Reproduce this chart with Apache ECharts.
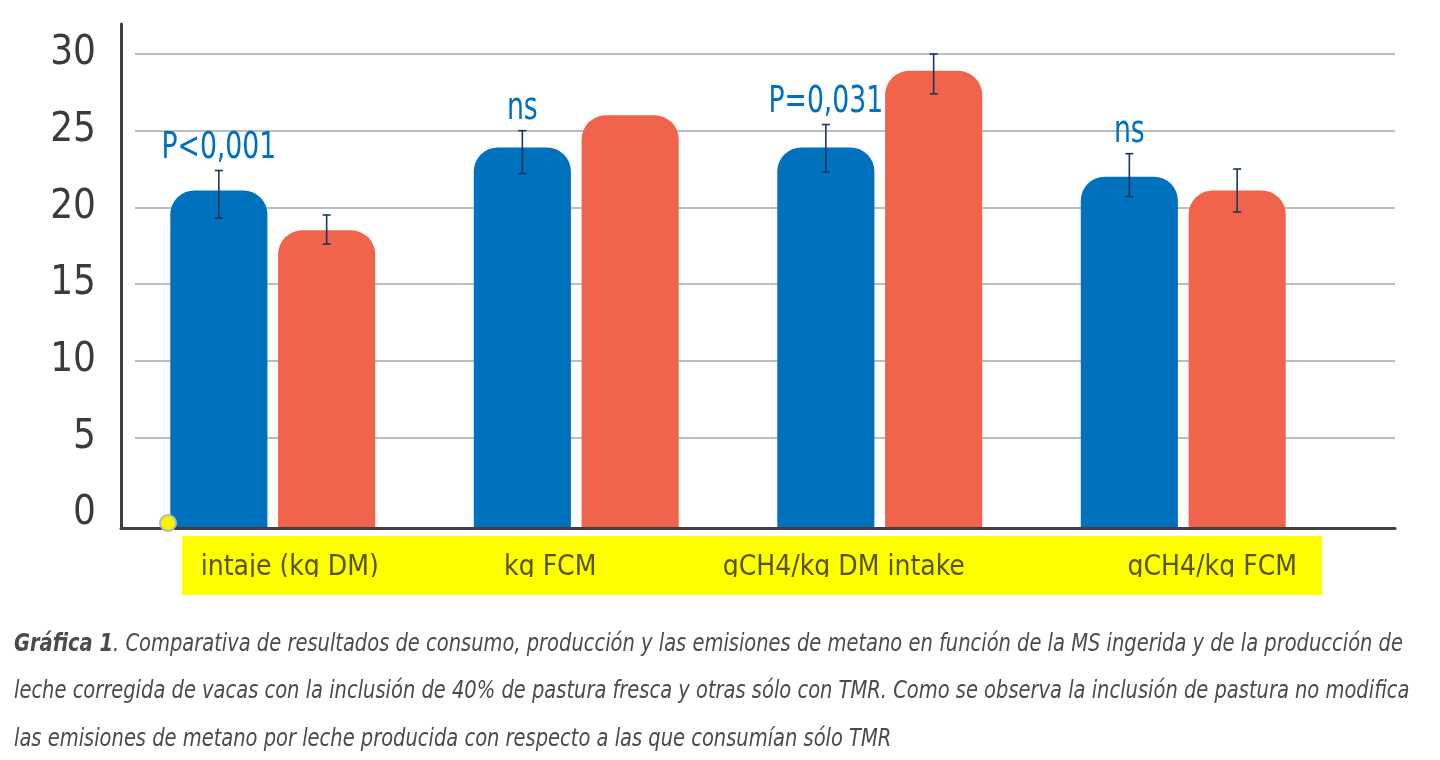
<!DOCTYPE html>
<html>
<head>
<meta charset="utf-8">
<title>Gráfica 1</title>
<script src="https://cdn.jsdelivr.net/npm/echarts@6/dist/echarts.min.js"></script>
<style>
  * { margin: 0; padding: 0; }
  html, body { width: 1440px; height: 760px; background: #fff; overflow: hidden; }
  #main { width: 1440px; height: 760px; }
</style>
</head>
<body>
<div id="main"></div>
<script>
// datos
const categories = ['intaje (kg DM)', 'kg FCM', 'gCH4/kg DM intake', 'gCH4/kg FCM'];
const pastura = [21.1, 23.9, 23.9, 22.0];
const tmr = [18.5, 26.0, 28.9, 21.1];
const pasturaLow = [19.3, 22.2, 22.3, 20.7];
const pasturaHigh = [22.4, 25.0, 25.4, 23.5];
const tmrLow = [17.6, null, 27.4, 19.7];
const tmrHigh = [19.5, null, 30.0, 22.5];
const pLabels = ['P<0,001', 'ns', 'P=0,031', 'ns'];
const yMin = -0.913;

const narrow = '"Liberation Sans Narrow", "DejaVu Sans Condensed", "Roboto Condensed", sans-serif';
const blue = '#0071bc';
const red = '#f1634a';
const captionColor = '#4b4b4f';

const chart = echarts.init(document.getElementById('main'));

function errorData (low, high) {
  return categories.map((c, i) => [i, low[i], high[i]]).filter(d => d[1] != null);
}

// barras de error (y la etiqueta P sobre la barra azul)
function renderError (side, withLabel) {
  return function (params, api) {
    const i = api.value(0);
    const band = api.size([1, 0])[0];
    const x = api.coord([i, 0])[0] + side * band * 0.1776;
    const top = api.coord([i, api.value(2)])[1];
    const bottom = api.coord([i, api.value(1)])[1];
    const style = { stroke: '#1d3461', lineWidth: 1.6 };
    const children = [
      { type: 'line', shape: { x1: x, y1: top, x2: x, y2: bottom }, style: style },
      { type: 'line', shape: { x1: x - 4, y1: top, x2: x + 4, y2: top }, style: style },
      { type: 'line', shape: { x1: x - 4, y1: bottom, x2: x + 4, y2: bottom }, style: style }
    ];
    if (withLabel) {
      children.push({
        type: 'text',
        x: x,
        y: top - 3,
        scaleX: 0.78,
        style: {
          text: pLabels[i],
          fill: '#0070c0',
          fontSize: 38,
          fontFamily: narrow,
          align: 'center',
          verticalAlign: 'bottom'
        }
      });
    }
    return { type: 'group', children: children };
  };
}

function caption (text, y) {
  return {
    type: 'text',
    x: 14,
    y: y,
    scaleX: 0.866,
    style: {
      text: text,
      fontSize: 25,
      fontStyle: 'italic',
      fontFamily: narrow,
      fill: captionColor,
      rich: {
        b: { fontSize: 25, fontStyle: 'italic', fontWeight: 'bold', fontFamily: narrow, color: '#3f3f41' }
      }
    }
  };
}

const option = {
  animation: false,
  backgroundColor: '#fff',
  grid: [
    { left: 121, right: 45, top: 24, bottom: 232 },
    { left: 135, right: 45, top: 54, bottom: 246 },
    { left: 121, width: 1214, top: 54, bottom: 232 }
  ],
  xAxis: [
    {
      gridIndex: 0,
      type: 'category',
      data: [''],
      z: 5,
      axisLine: { lineStyle: { color: '#3f3f3f', width: 3 } },
      axisTick: { show: false },
      axisLabel: { show: false }
    },
    { gridIndex: 1, type: 'category', data: [''], show: false },
    {
      gridIndex: 2,
      type: 'category',
      data: categories,
      axisLine: { show: false },
      axisTick: { show: false },
      axisLabel: {
        interval: 0,
        margin: 26,
        fontSize: 28,
        fontFamily: narrow,
        color: '#575400',
        formatter: (v, i) => '{c' + i + '|' + v + '}',
        rich: {
          c0: { fontSize: 28, fontFamily: narrow, color: '#575400', padding: [0, 0, 0, 34] },
          c1: { fontSize: 28, fontFamily: narrow, color: '#575400', padding: [0, 52, 0, 0] },
          c2: { fontSize: 28, fontFamily: narrow, color: '#575400', padding: [0, 72, 0, 0] },
          c3: { fontSize: 28, fontFamily: narrow, color: '#575400', padding: [0, 0, 0, 58] }
        }
      }
    }
  ],
  yAxis: [
    {
      gridIndex: 0,
      type: 'value',
      min: 0,
      max: 1,
      z: 5,
      axisLine: { show: true, lineStyle: { color: '#3f3f3f', width: 3 } },
      axisLabel: { show: false },
      splitLine: { show: false }
    },
    {
      gridIndex: 1,
      type: 'value',
      min: 0,
      max: 30,
      interval: 5,
      axisLine: { show: false },
      axisTick: { show: false },
      axisLabel: {
        margin: 39,
        fontSize: 40,
        fontFamily: narrow,
        color: '#3b3b3b'
      },
      splitLine: { showMinLine: false, lineStyle: { color: '#a8a8a8', width: 1.5 } }
    },
    {
      gridIndex: 2,
      type: 'value',
      min: yMin,
      max: 30,
      startValue: yMin,
      show: false,
      splitLine: { show: false }
    }
  ],
  series: [
    {
      name: 'Pastura 40%',
      type: 'bar',
      xAxisIndex: 2,
      yAxisIndex: 2,
      data: pastura,
      barWidth: '32%',
      barGap: '11%',
      itemStyle: { color: blue, borderRadius: [24, 24, 0, 0] }
    },
    {
      name: 'TMR',
      type: 'bar',
      xAxisIndex: 2,
      yAxisIndex: 2,
      data: tmr,
      barWidth: '32%',
      barGap: '11%',
      itemStyle: { color: red, borderRadius: [24, 24, 0, 0] }
    },
    {
      type: 'custom',
      xAxisIndex: 2,
      yAxisIndex: 2,
      z: 4,
      renderItem: renderError(-1, true),
      data: errorData(pasturaLow, pasturaHigh)
    },
    {
      type: 'custom',
      xAxisIndex: 2,
      yAxisIndex: 2,
      z: 4,
      renderItem: renderError(1, false),
      data: errorData(tmrLow, tmrHigh)
    }
  ],
  graphic: [
    { type: 'rect', z: -10, shape: { x: 182, y: 536, width: 1140, height: 59 }, style: { fill: '#ffff00' } },
    { type: 'rect', z: 100, shape: { x: 182, y: 577, width: 1140, height: 18 }, style: { fill: '#ffff00' } },
    {
      type: 'circle',
      z: 100,
      shape: { cx: 168, cy: 523, r: 8 },
      style: { fill: '#f3f300', stroke: '#b5b5b5', lineWidth: 2 }
    },
    caption('{b|Gráfica 1}. Comparativa de resultados de consumo, producción y las emisiones de metano en función de la MS ingerida y de la producción de', 632),
    caption('leche corregida de vacas con la inclusión de 40% de pastura fresca y otras sólo con TMR. Como se observa la inclusión de pastura no modifica', 679),
    caption('las emisiones de metano por leche producida con respecto a las que consumían sólo TMR', 727)
  ]
};

chart.setOption(option);
</script>
</body>
</html>
